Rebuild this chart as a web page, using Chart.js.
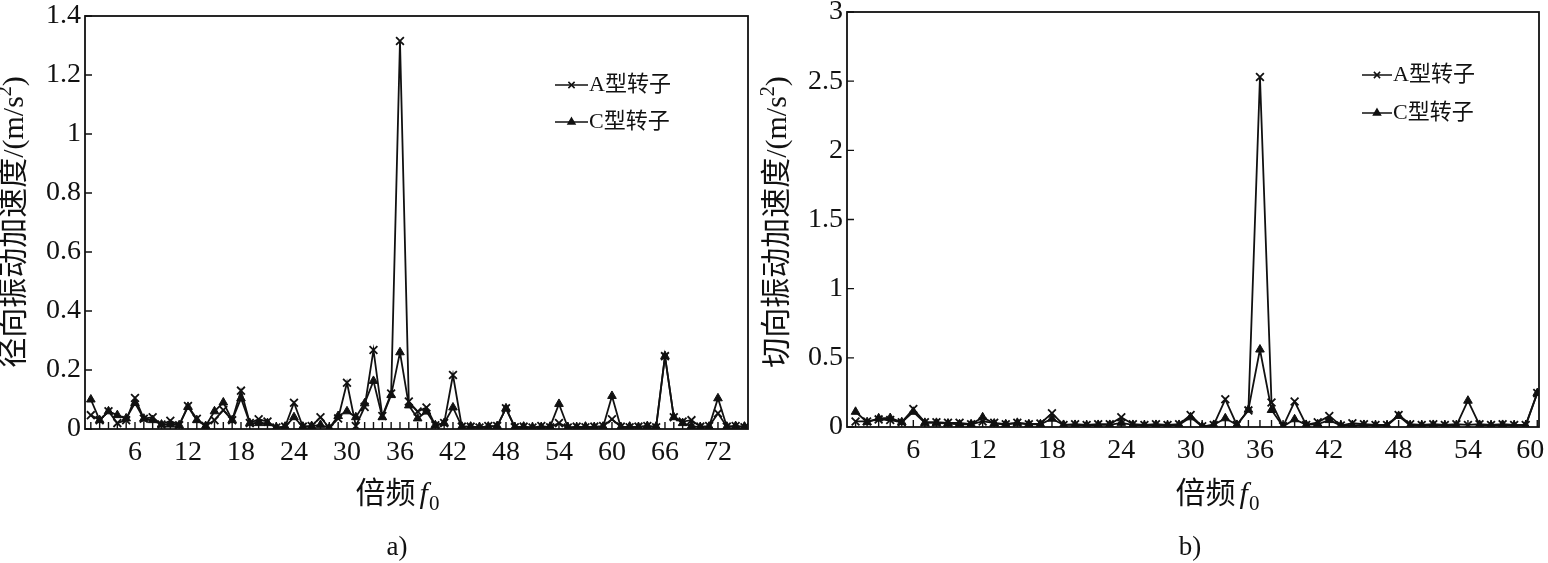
<!DOCTYPE html>
<html>
<head>
<meta charset="utf-8">
<script src="https://cdn.jsdelivr.net/npm/chart.js@4/dist/chart.umd.min.js"></script>
<style>
html, body { margin: 0; padding: 0; background: #fff; }
#wrap { position: relative; width: 1548px; height: 563px; overflow: hidden; }
#wrapA { position: absolute; left: 0; top: 0; width: 760px; height: 563px; }
#wrapB { position: absolute; left: 760px; top: 0; width: 788px; height: 563px; }
</style>
</head>
<body>
<div id="wrap">
    <div id="wrapA"><canvas id="chartA"></canvas></div>
    <div id="wrapB"><canvas id="chartB"></canvas></div>
</div>
<script>
// harmonic orders (multiples of f0)
const ordersA = [1, 2, 3, 4, 5, 6, 7, 8, 9, 10, 11, 12, 13, 14, 15, 16, 17, 18, 19, 20,
    21, 22, 23, 24, 25, 26, 27, 28, 29, 30, 31, 32, 33, 34, 35, 36, 37, 38, 39, 40,
    41, 42, 43, 44, 45, 46, 47, 48, 49, 50, 51, 52, 53, 54, 55, 56, 57, 58, 59, 60,
    61, 62, 63, 64, 65, 66, 67, 68, 69, 70, 71, 72, 73, 74, 75];
const ordersB = [1, 2, 3, 4, 5, 6, 7, 8, 9, 10, 11, 12, 13, 14, 15, 16, 17, 18, 19, 20,
    21, 22, 23, 24, 25, 26, 27, 28, 29, 30, 31, 32, 33, 34, 35, 36, 37, 38, 39, 40,
    41, 42, 43, 44, 45, 46, 47, 48, 49, 50, 51, 52, 53, 54, 55, 56, 57, 58, 59, 60];

// a) radial acceleration, m/s^2
const radialA = [0.047, 0.03, 0.06, 0.02, 0.03, 0.105, 0.035, 0.04, 0.015, 0.028,
    0.013, 0.078, 0.035, 0.01, 0.03, 0.064, 0.03, 0.13, 0.02, 0.033,
    0.025, 0.005, 0.008, 0.089, 0.008, 0.01, 0.04, 0.003, 0.036, 0.157,
    0.01, 0.075, 0.268, 0.044, 0.12, 1.315, 0.093, 0.059, 0.073, 0.013,
    0.02, 0.183, 0.008, 0.008, 0.005, 0.01, 0.01, 0.07, 0.006, 0.008,
    0.005, 0.01, 0.006, 0.02, 0.005, 0.008, 0.006, 0.008, 0.01, 0.033,
    0.008, 0.006, 0.008, 0.01, 0.006, 0.247, 0.04, 0.025, 0.03, 0.008,
    0.01, 0.053, 0.008, 0.01, 0.006];
const radialC = [0.1, 0.03, 0.06, 0.047, 0.036, 0.088, 0.035, 0.03, 0.015, 0.015,
    0.013, 0.075, 0.03, 0.01, 0.06, 0.09, 0.03, 0.104, 0.02, 0.02,
    0.02, 0.005, 0.008, 0.04, 0.008, 0.01, 0.014, 0.003, 0.044, 0.06,
    0.04, 0.087, 0.163, 0.04, 0.115, 0.26, 0.08, 0.036, 0.059, 0.013,
    0.02, 0.073, 0.008, 0.008, 0.006, 0.008, 0.01, 0.07, 0.006, 0.008,
    0.005, 0.006, 0.008, 0.085, 0.006, 0.005, 0.008, 0.006, 0.008, 0.112,
    0.006, 0.008, 0.006, 0.01, 0.008, 0.247, 0.04, 0.02, 0.01, 0.006,
    0.008, 0.104, 0.008, 0.01, 0.008];

// b) tangential acceleration, m/s^2
const tangA = [0.04, 0.04, 0.055, 0.05, 0.035, 0.13, 0.035, 0.035, 0.03, 0.03,
    0.02, 0.04, 0.03, 0.02, 0.03, 0.02, 0.025, 0.1, 0.015, 0.02,
    0.015, 0.02, 0.02, 0.07, 0.02, 0.015, 0.02, 0.015, 0.02, 0.087,
    0.005, 0.015, 0.2, 0.015, 0.12, 2.53, 0.177, 0.005, 0.184, 0.015,
    0.034, 0.08, 0.01, 0.027, 0.02, 0.015, 0.015, 0.087, 0.02, 0.015,
    0.02, 0.015, 0.02, 0.015, 0.02, 0.015, 0.02, 0.015, 0.015, 0.245];
const tangC = [0.11, 0.035, 0.063, 0.065, 0.035, 0.11, 0.03, 0.03, 0.025, 0.02,
    0.02, 0.07, 0.025, 0.02, 0.03, 0.02, 0.02, 0.06, 0.015, 0.015,
    0.01, 0.015, 0.015, 0.03, 0.015, 0.01, 0.015, 0.01, 0.015, 0.07,
    0.003, 0.015, 0.063, 0.015, 0.125, 0.56, 0.123, 0.003, 0.056, 0.015,
    0.02, 0.05, 0.01, 0.01, 0.015, 0.01, 0.01, 0.08, 0.01, 0.01,
    0.015, 0.01, 0.01, 0.19, 0.015, 0.01, 0.015, 0.01, 0.01, 0.245];

const xLabelsA = [6, 12, 18, 24, 30, 36, 42, 48, 54, 60, 66, 72];
const xLabelsB = [6, 12, 18, 24, 30, 36, 42, 48, 54, 60];
const yTicksA = [0, 0.2, 0.4, 0.6, 0.8, 1, 1.2, 1.4];
const yTicksB = [0, 0.5, 1, 1.5, 2, 2.5, 3];
const seriesNames = ['A型转子', 'C型转子'];

const FONT = "'Liberation Serif', 'Noto Sans CJK SC', serif";
const INK = '#111';

function toPoints(xs, ys) {
    return xs.map((x, i) => ({ x: x, y: ys[i] }));
}

function drawYTitle(ctx, text, cx, cy, size) {
    ctx.save();
    ctx.translate(cx, cy);
    ctx.rotate(-Math.PI / 2);
    ctx.fillStyle = INK;
    ctx.textBaseline = 'middle';
    ctx.textAlign = 'left';
    const main = text + '/(m/s';
    ctx.font = size + 'px ' + FONT;
    const w1 = ctx.measureText(main).width;
    const w3 = ctx.measureText(')').width;
    ctx.font = Math.round(size * 0.65) + 'px ' + FONT;
    const w2 = ctx.measureText('2').width;
    let x = -(w1 + w2 + w3) / 2;
    ctx.font = size + 'px ' + FONT;
    ctx.fillText(main, x, 0);
    x += w1;
    ctx.font = Math.round(size * 0.65) + 'px ' + FONT;
    ctx.fillText('2', x, -size * 0.32);
    x += w2;
    ctx.font = size + 'px ' + FONT;
    ctx.fillText(')', x, 0);
    ctx.restore();
}

function drawXTitle(ctx, cx, cy, size) {
    ctx.save();
    ctx.fillStyle = INK;
    ctx.textBaseline = 'middle';
    ctx.textAlign = 'left';
    ctx.font = size + 'px ' + FONT;
    const w1 = ctx.measureText('倍频').width + 4;
    ctx.font = 'italic ' + size + 'px ' + FONT;
    const w2 = ctx.measureText('f').width;
    ctx.font = Math.round(size * 0.7) + 'px ' + FONT;
    const w3 = ctx.measureText('0').width;
    let x = cx - (w1 + w2 + w3) / 2;
    ctx.font = size + 'px ' + FONT;
    ctx.fillText('倍频', x, cy);
    x += w1;
    ctx.font = 'italic ' + size + 'px ' + FONT;
    ctx.fillText('f', x, cy);
    x += w2 + 1;
    ctx.font = Math.round(size * 0.7) + 'px ' + FONT;
    ctx.fillText('0', x, cy + size * 0.3);
    ctx.restore();
}

const decorPlugin = {
    id: 'decor',
    afterDraw(chart, args, opts) {
        const ctx = chart.ctx;
        const area = chart.chartArea;
        const xs = chart.scales.x;
        const ys = chart.scales.y;
        ctx.save();
        ctx.strokeStyle = INK;
        ctx.lineWidth = 1.8;
        ctx.strokeRect(area.left, area.top, area.right - area.left, area.bottom - area.top);
        // inward ticks
        ctx.lineWidth = 1.4;
        ctx.beginPath();
        xs.ticks.forEach(t => {
            const px = xs.getPixelForValue(t.value);
            ctx.moveTo(px, area.bottom);
            ctx.lineTo(px, area.bottom - 7);
        });
        ys.ticks.forEach(t => {
            const py = ys.getPixelForValue(t.value);
            ctx.moveTo(area.left, py);
            ctx.lineTo(area.left + 7, py);
        });
        ctx.stroke();
        ctx.restore();

        drawYTitle(ctx, opts.yTitle, opts.yTitleX, opts.yTitleY, opts.titleSize);
        drawXTitle(ctx, opts.xTitleX, opts.xTitleY, opts.titleSize);

        ctx.save();
        ctx.fillStyle = INK;
        ctx.font = opts.captionSize + 'px ' + FONT;
        ctx.textAlign = 'center';
        ctx.textBaseline = 'middle';
        ctx.fillText(opts.caption, opts.captionX, opts.captionY);

        // legend
        chart.data.datasets.forEach((ds, i) => {
            const y = opts.legendY[i];
            ctx.strokeStyle = INK;
            ctx.lineWidth = 1.5;
            ctx.beginPath();
            ctx.moveTo(opts.legendX1, y);
            ctx.lineTo(opts.legendX2, y);
            ctx.stroke();
            ctx.fillStyle = INK;
            Chart.helpers.drawPoint(ctx, {
                pointStyle: ds.pointStyle,
                radius: ds.pointRadius * 0.8,
                borderWidth: 1.4,
                rotation: 0
            }, (opts.legendX1 + opts.legendX2) / 2, y);
            ctx.fillStyle = INK;
            ctx.font = opts.legendSize + 'px ' + FONT;
            ctx.textAlign = 'left';
            ctx.textBaseline = 'middle';
            ctx.fillText(ds.label, opts.legendX2 + 1, y);
        });
        ctx.restore();
    }
};

function makeChart(id, cfg) {
    const canvas = document.getElementById(id);
    const W = canvas.parentNode.clientWidth;
    const H = canvas.parentNode.clientHeight;
    const lastLabel = cfg.xLabels[cfg.xLabels.length - 1];
    return new Chart(canvas, {
        type: 'line',
        data: {
            datasets: [{
                label: seriesNames[0],
                data: toPoints(cfg.orders, cfg.seriesA),
                borderColor: INK,
                backgroundColor: INK,
                borderWidth: 1.8,
                pointStyle: 'crossRot',
                pointRadius: 5.5,
                pointBorderWidth: 1.8,
                pointBorderColor: INK,
                tension: 0
            }, {
                label: seriesNames[1],
                data: toPoints(cfg.orders, cfg.seriesC),
                borderColor: INK,
                backgroundColor: INK,
                borderWidth: 1.8,
                pointStyle: 'triangle',
                pointRadius: 5,
                pointBorderWidth: 1,
                pointBackgroundColor: INK,
                pointBorderColor: INK,
                tension: 0
            }]
        },
        options: {
            responsive: true,
            maintainAspectRatio: false,
            animation: false,
            devicePixelRatio: 1,
            layout: {
                padding: { left: 0, top: cfg.box.top, right: W - cfg.box.right, bottom: 0 }
            },
            plugins: {
                legend: { display: false },
                tooltip: { enabled: false },
                decor: cfg.decor
            },
            scales: {
                x: {
                    type: 'linear',
                    min: cfg.xMin,
                    max: cfg.xMax,
                    grid: { display: false, drawTicks: false, tickLength: 0 },
                    border: { display: false },
                    afterBuildTicks: (scale) => {
                        scale.ticks = cfg.orders.map(v => ({ value: v }));
                    },
                    afterFit: (scale) => {
                        scale.height = H - cfg.box.bottom;
                        scale.paddingLeft = 0;
                        scale.paddingRight = 0;
                    },
                    ticks: {
                        autoSkip: false,
                        maxRotation: 0,
                        padding: 7,
                        color: INK,
                        font: { family: FONT, size: 28 },
                        callback: (v) => {
                            if (!cfg.xLabels.includes(v)) return '';
                            // keep the label at the right edge inside the figure
                            if (cfg.pullLast && v === lastLabel) return String(v) + '\u2002';
                            return String(v);
                        }
                    }
                },
                y: {
                    min: cfg.yTicks[0],
                    max: cfg.yTicks[cfg.yTicks.length - 1],
                    grid: { display: false, drawTicks: false, tickLength: 0 },
                    border: { display: false },
                    afterBuildTicks: (scale) => {
                        scale.ticks = cfg.yTicks.map(v => ({ value: v }));
                    },
                    afterFit: (scale) => {
                        scale.width = cfg.box.left;
                        scale.paddingTop = 0;
                        scale.paddingBottom = 0;
                    },
                    ticks: {
                        padding: 4,
                        color: INK,
                        font: { family: FONT, size: 28 },
                        callback: (v) => String(Math.round(v * 10) / 10)
                    }
                }
            }
        },
        plugins: [decorPlugin]
    });
}

makeChart('chartA', {
    orders: ordersA, seriesA: radialA, seriesC: radialC,
    xMin: 0.34, xMax: 75.4, xLabels: xLabelsA, yTicks: yTicksA, pullLast: false,
    box: { left: 85, top: 16, right: 748, bottom: 429 },
    decor: {
        yTitle: '径向振动加速度', yTitleX: 15, yTitleY: 222,
        xTitleX: 397, xTitleY: 495, captionX: 397, captionY: 548, caption: 'a)',
        titleSize: 30, captionSize: 27, legendSize: 22,
        legendX1: 555, legendX2: 588, legendY: [85, 122]
    }
});

makeChart('chartB', {
    orders: ordersB, seriesA: tangA, seriesC: tangC,
    xMin: 0.26, xMax: 60.15, xLabels: xLabelsB, yTicks: yTicksB, pullLast: true,
    box: { left: 87, top: 12, right: 779, bottom: 427 },
    decor: {
        yTitle: '切向振动加速度', yTitleX: 18, yTitleY: 222,
        xTitleX: 457, xTitleY: 495, captionX: 430, captionY: 548, caption: 'b)',
        titleSize: 30, captionSize: 27, legendSize: 22,
        legendX1: 602, legendX2: 632, legendY: [75, 113]
    }
});
</script>
</body>
</html>
